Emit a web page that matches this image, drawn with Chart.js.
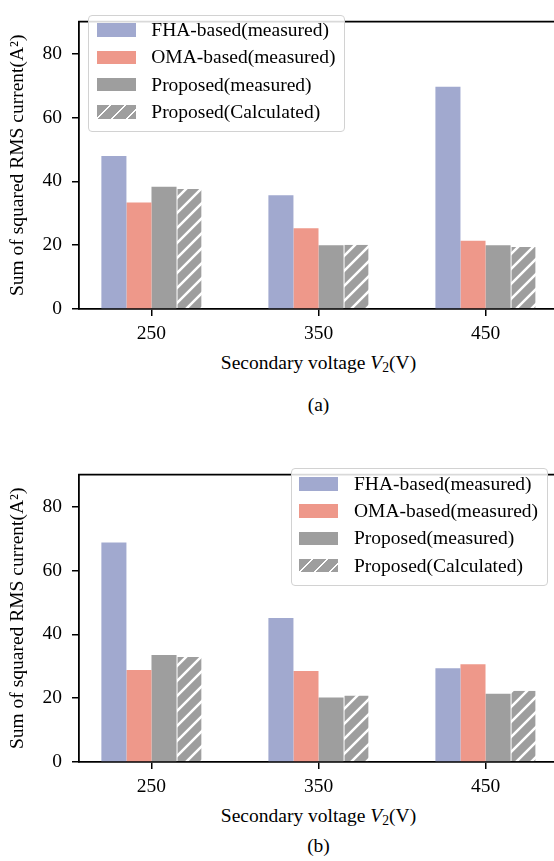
<!DOCTYPE html>
<html>
<head>
<meta charset="utf-8">
<script src="https://cdn.jsdelivr.net/npm/chart.js@4"></script>
<style>
  html, body { margin: 0; padding: 0; background: #fff; overflow: hidden; }
  body { width: 554px; height: 861px; position: relative; font-family: 'Liberation Serif', 'Times New Roman', serif; color: #000; }
  .panel { position: absolute; left: 0; width: 554px; height: 345px; overflow: hidden; }
  canvas { display: block; }
  .legend {
    position: absolute; box-sizing: border-box; width: 257px; height: 117.5px;
    border: 1px solid #d2d2d2; border-radius: 4px; background: rgba(255,255,255,.85);
    padding: 0.85px 0 0 7.4px; font-size: 19.5px;
  }
  .legend .row { height: 27.3px; display: flex; align-items: center; white-space: nowrap; }
  .legend .sw { width: 39px; height: 13.5px; margin-right: 15.6px; flex: none; }
  .lbl { position: absolute; font-size: 19.5px; white-space: nowrap; transform: translate(-50%, -50%); }
  .lbl sub { font-size: 70%; vertical-align: -0.25em; line-height: 0; }
</style>
</head>
<body>
  <div class="panel" style="top:0"><canvas id="chartA" width="560" height="345"></canvas></div>
  <div class="legend" id="legendA" style="left:88.3px; top:14.5px"></div>
  <div class="lbl" style="left:318.5px; top:362.7px">Secondary voltage <i>V</i><sub>2</sub>(V)</div>
  <div class="lbl" style="left:318.5px; top:405px">(a)</div>

  <div class="panel" style="top:453.3px"><canvas id="chartB" width="560" height="345"></canvas></div>
  <div class="legend" id="legendB" style="left:291px; top:468.3px"></div>
  <div class="lbl" style="left:318.5px; top:816px">Secondary voltage <i>V</i><sub>2</sub>(V)</div>
  <div class="lbl" style="left:318.5px; top:846px">(b)</div>

<script>
(function () {
  'use strict';

  const voltages = ['250', '350', '450'];
  const seriesNames = ['FHA-based(measured)', 'OMA-based(measured)', 'Proposed(measured)', 'Proposed(Calculated)'];
  const yTicks = [0, 20, 40, 60, 80];

  // (a)
  const fhaA = [47.9, 35.6, 69.6];
  const omaA = [33.4, 25.3, 21.4];
  const propA = [38.3, 20.0, 20.0];
  const calcA = [37.6, 20.1, 19.4];

  // (b)
  const fhaB = [68.8, 45.1, 29.4];
  const omaB = [28.8, 28.5, 30.6];
  const propB = [33.5, 20.2, 21.4];
  const calcB = [32.9, 20.8, 22.3];

  const colFha = '#a1a9cf';
  const colOma = '#ee988a';
  const colGray = '#9e9e9e';

  const serif = "'Liberation Serif', 'Times New Roman', serif";
  const font = { family: serif, size: 19.5 };

  // white "/" stripes over gray, 15px period
  function hatchPattern(ctx, color) {
    const c = document.createElement('canvas');
    c.width = 15; c.height = 15;
    const g = c.getContext('2d');
    g.fillStyle = color;
    g.fillRect(0, 0, 15, 15);
    g.strokeStyle = '#fff';
    g.lineWidth = 2.5;
    g.beginPath();
    g.moveTo(-3, 18); g.lineTo(18, -3);
    g.moveTo(-3, 3); g.lineTo(3, -3);
    g.moveTo(12, 18); g.lineTo(18, 12);
    g.stroke();
    return ctx.createPattern(c, 'repeat');
  }

  // top and right spines; the panel wrapper crops the right one away
  const frame = {
    id: 'frame',
    afterDraw(chart) {
      const { ctx, chartArea: a } = chart;
      ctx.save();
      ctx.strokeStyle = '#000';
      ctx.lineWidth = 1.8;
      ctx.beginPath();
      ctx.moveTo(a.left - 0.9, a.top);
      ctx.lineTo(a.right, a.top);
      ctx.lineTo(a.right, a.bottom);
      ctx.stroke();
      ctx.restore();
    }
  };

  function buildChart(id, series) {
    const canvas = document.getElementById(id);
    const ctx = canvas.getContext('2d');
    const fills = [colFha, colOma, colGray, hatchPattern(ctx, colGray)];

    return new Chart(canvas, {
      type: 'bar',
      data: {
        datasets: series.map((vals, k) => ({
          label: seriesNames[k],
          data: vals.map((v, i) => ({ x: i, y: v })),
          backgroundColor: fills[k],
          borderColor: 'rgba(255,255,255,0.35)',
          borderWidth: k === 3 ? { left: 1, top: 0, right: 0, bottom: 0 } : 0,
          barPercentage: 1,
          categoryPercentage: 0.6
        }))
      },
      options: {
        responsive: false,
        animation: false,
        devicePixelRatio: 1,
        layout: { padding: { top: 5, right: 2, left: 0, bottom: 0 } },
        plugins: { legend: { display: false }, tooltip: { enabled: false } },
        scales: {
          x: {
            type: 'linear',
            offset: false,
            min: -0.434,
            max: 2.434,
            afterBuildTicks: (s) => { s.ticks = voltages.map((_, i) => ({ value: i })); },
            afterFit: (s) => { s.height = 36; },
            ticks: {
              callback: (v) => voltages[v],
              color: '#000', font, padding: 6, maxRotation: 0, autoSkip: false
            },
            grid: { offset: false, drawOnChartArea: false, drawTicks: true, tickLength: 7, color: '#000', lineWidth: 1.5 },
            border: { display: true, color: '#000', width: 1.8 }
          },
          y: {
            min: 0,
            max: 90,
            afterBuildTicks: (s) => { s.ticks = yTicks.map((v) => ({ value: v })); },
            afterFit: (s) => { s.width = 79; },
            ticks: { color: '#000', font, padding: 10 },
            grid: { drawOnChartArea: false, drawTicks: true, tickLength: 7, color: '#000', lineWidth: 1.5 },
            border: { display: true, color: '#000', width: 1.8 },
            title: {
              display: true,
              text: 'Sum of squared RMS current(A²)',
              color: '#000', font, padding: { top: 6, bottom: 0 }
            }
          }
        }
      },
      plugins: [frame]
    });
  }

  function buildLegend(id) {
    const box = document.getElementById(id);
    const swatches = [
      colFha,
      colOma,
      colGray,
      'repeating-linear-gradient(135deg, ' + colGray + ' 0px, ' + colGray + ' 8.8px, #fff 8.8px, #fff 10.6px)'
    ];
    seriesNames.forEach((name, k) => {
      const row = document.createElement('div');
      row.className = 'row';
      const sw = document.createElement('span');
      sw.className = 'sw';
      sw.style.background = swatches[k];
      const txt = document.createElement('span');
      txt.textContent = name;
      row.appendChild(sw);
      row.appendChild(txt);
      box.appendChild(row);
    });
  }

  buildChart('chartA', [fhaA, omaA, propA, calcA]);
  buildChart('chartB', [fhaB, omaB, propB, calcB]);
  buildLegend('legendA');
  buildLegend('legendB');
})();
</script>
</body>
</html>
